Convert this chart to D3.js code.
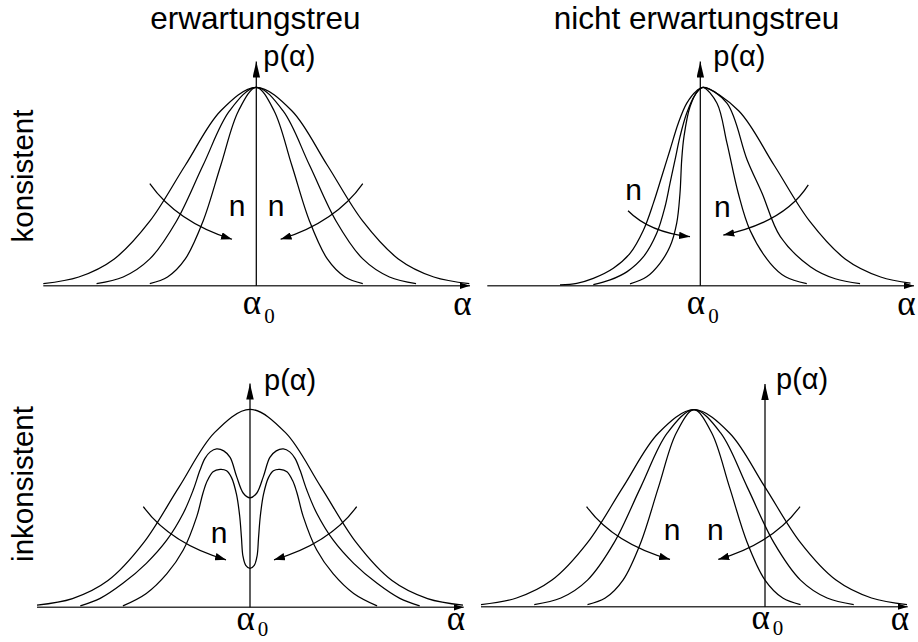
<!DOCTYPE html>
<html><head><meta charset="utf-8">
<script src="https://cdn.jsdelivr.net/npm/d3@7"></script>
<style>html,body{margin:0;padding:0;background:#fff}svg{display:block}</style>
</head><body>
<svg id="chart" width="918" height="642"></svg>
<script>
// ---------------- data ----------------
const columnTitles = ["erwartungstreu", "nicht erwartungstreu"];
const rowLabels = ["konsistent", "inkonsistent"];
const yAxisLabel = "p(α)";
const xAxisLabel = "α";
const refLabel = "α";
const refSub = "0";
const nLabel = "n";
const xAxisDomain = [-3, 3.01];   // α units, relative to panel centre
const yAxisTop = 1.13;            // p units
const alpha0 = [0, 0, 0, 1.0];    // position of α0 in each panel (TL, TR, BL, BR)

// top-left: unbiased, consistent  [α, p]
const tlWide = [[-3,0.011],[-2.5,0.044],[-2,0.135],[-1.5,0.325],[-1,0.607],[-0.5,0.882],[0,1],[0.5,0.882],[1,0.607],[1.5,0.325],[2,0.135],[2.5,0.044],[3,0.011]];
const tlMid = [[-2.25,0.011],[-1.875,0.044],[-1.5,0.135],[-1.125,0.325],[-0.75,0.607],[-0.375,0.882],[0,1],[0.375,0.882],[0.75,0.607],[1.125,0.325],[1.5,0.135],[1.875,0.044],[2.25,0.011]];
const tlNarrow = [[-1.5,0.011],[-1.25,0.044],[-1,0.135],[-0.75,0.325],[-0.5,0.607],[-0.25,0.882],[0,1],[0.25,0.882],[0.5,0.607],[0.75,0.325],[1,0.135],[1.25,0.044],[1.5,0.011]];

// top-right: biased, consistent
const trWide = [[-1.976,0.004],[-1.74,0.012],[-1.507,0.037],[-1.225,0.088],[-0.99,0.163],[-0.8,0.281],[-0.662,0.415],[-0.544,0.549],[-0.427,0.684],[-0.31,0.819],[-0.192,0.919],[-0.05,0.983],[0.04,1],
  [0.54,0.882],[1.04,0.607],[1.54,0.325],[2.04,0.135],[2.54,0.044],[2.96,0.013]];
const trMid = [[-1.507,0.005],[-1.27,0.029],[-1.03,0.071],[-0.8,0.146],[-0.614,0.264],[-0.497,0.398],[-0.427,0.516],[-0.356,0.634],[-0.286,0.751],[-0.192,0.869],[-0.075,0.961],[0.04,1],
  [0.375,0.92],[0.66,0.634],[0.87,0.466],[1.127,0.247],[1.55,0.096],[1.9,0.035],[2.25,0.01]];
const trNarrow = [[-0.99,0.009],[-0.755,0.045],[-0.568,0.113],[-0.427,0.197],[-0.333,0.314],[-0.286,0.466],[-0.262,0.634],[-0.23,0.751],[-0.145,0.902],[-0.028,0.986],[0.04,1],
  [0.235,0.92],[0.375,0.72],[0.535,0.466],[0.70,0.28],[0.986,0.113],[1.2,0.045],[1.5,0.01]];

// bottom-left: unbiased, inconsistent
const blOuter = [[-3,0.011],[-2.5,0.044],[-2,0.135],[-1.5,0.325],[-1,0.607],[-0.5,0.882],[0,1],[0.5,0.882],[1,0.607],[1.5,0.325],[2,0.135],[2.5,0.044],[3,0.011]];
const blMid = [[-2.39,0.007],[-2.11,0.045],[-1.79,0.121],[-1.46,0.222],[-1.17,0.34],[-0.94,0.475],[-0.8,0.592],[-0.704,0.693],[-0.634,0.752],[-0.56,0.785],[-0.47,0.80],[-0.37,0.79],[-0.28,0.757],[-0.188,0.66],[-0.094,0.576],[0,0.553],
  [0.094,0.576],[0.188,0.66],[0.28,0.757],[0.37,0.79],[0.47,0.80],[0.56,0.785],[0.634,0.752],[0.704,0.693],[0.8,0.592],[0.94,0.475],[1.17,0.34],[1.46,0.222],[1.79,0.121],[2.11,0.045],[2.39,0.007]];
const blInner = [[-1.79,0.007],[-1.46,0.07],[-1.17,0.17],[-0.94,0.289],[-0.75,0.458],[-0.66,0.58],[-0.6,0.64],[-0.52,0.685],[-0.42,0.697],[-0.33,0.69],[-0.26,0.655],[-0.19,0.57],[-0.145,0.46],[-0.12,0.35],[-0.1,0.26],[-0.06,0.212],[0,0.197],
  [0.06,0.212],[0.1,0.26],[0.12,0.35],[0.145,0.46],[0.19,0.57],[0.26,0.655],[0.33,0.69],[0.42,0.697],[0.52,0.685],[0.6,0.64],[0.66,0.58],[0.75,0.458],[0.94,0.289],[1.17,0.17],[1.46,0.07],[1.79,0.007]];

// bottom-right: biased, inconsistent
const brWide = [[-3,0.011],[-2.5,0.044],[-2,0.135],[-1.5,0.325],[-1,0.607],[-0.5,0.882],[0,1],[0.5,0.882],[1,0.607],[1.5,0.325],[2,0.135],[2.5,0.044],[3,0.011]];
const brMid = [[-2.25,0.011],[-1.875,0.044],[-1.5,0.135],[-1.125,0.325],[-0.75,0.607],[-0.375,0.882],[0,1],[0.375,0.882],[0.75,0.607],[1.125,0.325],[1.5,0.135],[1.875,0.044],[2.25,0.011]];
const brNarrow = [[-1.5,0.011],[-1.25,0.044],[-1,0.135],[-0.75,0.325],[-0.5,0.607],[-0.25,0.882],[0,1],[0.25,0.882],[0.5,0.607],[0.75,0.325],[1,0.135],[1.25,0.044],[1.5,0.011]];

// "n" arrows: [start, control, end] in [α, p]
const tlArrows = [[[-1.5,0.515],[-1.117,0.321],[-0.342,0.234]], [[1.5,0.515],[1.117,0.321],[0.342,0.234]]];
const trArrows = [[[-1.018,0.378],[-0.72,0.27],[-0.145,0.247]], [[1.521,0.508],[1.19,0.32],[0.324,0.255]]];
const blArrows = [[[-1.503,0.508],[-1.117,0.321],[-0.338,0.24]], [[1.503,0.508],[1.117,0.321],[0.338,0.24]]];
const brArrows = [[[-1.513,0.508],[-1.13,0.321],[-0.338,0.24]], [[1.493,0.508],[1.11,0.321],[0.342,0.24]]];

// "n" label anchors [α, p] (text centre, baseline)
const tlN = [[-0.27,0.35],[0.28,0.35]];
const trN = [[-0.94,0.432],[0.31,0.348]];
const blN = [[-0.437,0.325]];
const brN = [[-0.31,0.337],[0.30,0.337]];

// ---------------- layout ----------------
const PXU = 71;           // px per α unit
const sans = "'Liberation Sans', Arial, Helvetica, sans-serif";
const serif = "'Liberation Serif', 'Times New Roman', serif";
const panels = [
  {cx:256.3, base:285.7, h:198.4, curves:[tlWide,tlMid,tlNarrow], arrows:tlArrows, n:tlN, a0:alpha0[0], pdx:7, pdy:4, ly:28.5, sdy:9},
  {cx:700.3, base:285.7, h:198.4, curves:[trWide,trMid,trNarrow], arrows:trArrows, n:trN, a0:alpha0[1], pdx:13, pdy:4, ly:28.5, sdy:9},
  {cx:250,   base:607.3, h:198,   curves:[blOuter,blMid,blInner], arrows:blArrows, n:blN, a0:alpha0[2], pdx:14, pdy:6, ly:22.5, sdy:6},
  {cx:694,   base:606.7, h:197,   curves:[brWide,brMid,brNarrow], arrows:brArrows, n:brN, a0:alpha0[3], pdx:11, pdy:5, ly:22.5, sdy:6}
];

const svg = d3.select("#chart");
svg.append("rect").attr("width",918).attr("height",642).attr("fill","#fff");
const defs = svg.append("defs");
function marker(id, len, wid){
  defs.append("marker").attr("id",id).attr("markerUnits","userSpaceOnUse")
    .attr("viewBox",`0 0 ${len} ${wid}`).attr("markerWidth",len).attr("markerHeight",wid)
    .attr("refX",len).attr("refY",wid/2).attr("orient","auto")
    .append("path").attr("d",`M0,0L${len},${wid/2}L0,${wid}Z`).attr("fill","#000");
}
marker("headN", 11, 7.5);
marker("headX", 10, 6.5);
marker("headY", 16, 7.5);

// titles
const titleX = [255.4, 696.5];
columnTitles.forEach((t,i)=>{
  svg.append("text").attr("x",titleX[i]).attr("y",28.5).attr("text-anchor","middle")
    .attr("font-family",sans).attr("font-size",31.5).attr("fill","#000").text(t);
});
const rowY = [176, 484];
rowLabels.forEach((t,i)=>{
  svg.append("text").attr("transform",`translate(33,${rowY[i]}) rotate(-90)`).attr("text-anchor","middle")
    .attr("font-family",sans).attr("font-size",29.5).attr("fill","#000").text(t);
});

panels.forEach(P=>{
  const x = d3.scaleLinear().domain([-3,3]).range([P.cx-3*PXU, P.cx+3*PXU]);
  const y = d3.scaleLinear().domain([0,1]).range([P.base, P.base-P.h]);
  const g = svg.append("g");
  // x axis
  g.append("line").attr("x1",x(xAxisDomain[0])).attr("x2",x(xAxisDomain[1])).attr("y1",y(0)).attr("y2",y(0))
    .attr("stroke","#3a3a3a").attr("stroke-width",1.4).attr("marker-end","url(#headX)");
  // curves
  const line = d3.line().x(d=>x(d[0])).y(d=>y(d[1])).curve(d3.curveCatmullRom.alpha(0.5));
  P.curves.forEach(c=>{
    g.append("path").attr("d",line(c)).attr("fill","none").attr("stroke","#000").attr("stroke-width",1.25);
  });
  // y axis
  g.append("line").attr("x1",x(P.a0)).attr("x2",x(P.a0)).attr("y1",y(0)).attr("y2",y(yAxisTop))
    .attr("stroke","#000").attr("stroke-width",1.25).attr("marker-end","url(#headY)");
  g.append("text").attr("x",x(P.a0)+P.pdx).attr("y",y(yAxisTop)+P.pdy)
    .attr("font-family",sans).attr("font-size",29).attr("fill","#000").text(yAxisLabel);
  // α0 label
  const t0 = g.append("text").attr("x",x(P.a0)-13.5).attr("y",y(0)+P.ly)
    .attr("font-family",serif).attr("font-size",35).attr("fill","#000");
  t0.append("tspan").text(refLabel);
  t0.append("tspan").attr("dx",3).attr("dy",P.sdy).attr("font-size",21).text(refSub);
  // α label
  g.append("text").attr("x",x(xAxisDomain[1])+1.5).attr("y",y(0)+P.ly+0.5).attr("text-anchor","end")
    .attr("font-family",serif).attr("font-size",35).attr("fill","#000").text(xAxisLabel);
  // n arrows
  P.arrows.forEach(a=>{
    const p = d3.path();
    p.moveTo(x(a[0][0]),y(a[0][1]));
    p.quadraticCurveTo(x(a[1][0]),y(a[1][1]),x(a[2][0]),y(a[2][1]));
    g.append("path").attr("d",p.toString()).attr("fill","none").attr("stroke","#000")
      .attr("stroke-width",1.25).attr("marker-end","url(#headN)");
  });
  P.n.forEach(d=>{
    g.append("text").attr("x",x(d[0])).attr("y",y(d[1])).attr("text-anchor","middle")
      .attr("font-family",sans).attr("font-size",30).attr("fill","#000").text(nLabel);
  });
});
</script>
</body></html>
